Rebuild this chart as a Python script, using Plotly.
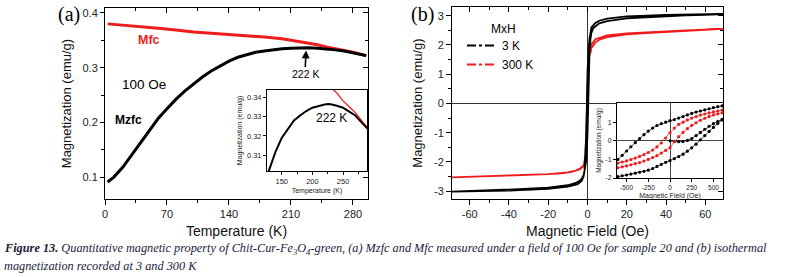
import plotly.graph_objects as go

# ---------------- DATA ----------------
# Panel (a): ZFC / FC magnetization vs temperature (100 Oe)
T_zfc = [3, 10, 20, 30, 40, 50, 60, 70, 80, 90, 100, 110, 120, 130, 140, 150, 160, 170,
         180, 190, 200, 210, 220, 226, 230, 240, 250, 260, 270, 280, 290, 295]
M_zfc = [0.091, 0.100, 0.118, 0.140, 0.163, 0.186, 0.207, 0.225, 0.242, 0.257, 0.270, 0.283,
         0.294, 0.303, 0.312, 0.319, 0.3235, 0.328, 0.3305, 0.3328, 0.3345, 0.3355, 0.3362,
         0.3364, 0.3363, 0.3355, 0.3345, 0.3325, 0.3305, 0.327, 0.3235, 0.322]
T_fc = [3, 20, 40, 60, 80, 100, 120, 140, 160, 180, 200, 220, 240, 250, 260, 270, 280, 290, 295]
M_fc = [0.380, 0.378, 0.375, 0.372, 0.369, 0.365, 0.363, 0.361, 0.358, 0.356, 0.353, 0.348,
        0.342, 0.338, 0.335, 0.332, 0.328, 0.324, 0.322]

a_xticks = [0, 70, 140, 210, 280]
a_yticks = [0.1, 0.2, 0.3, 0.4]
a_yticklabels = ["0.1", "0.2", "0.3", "0.4"]
ai_xticks = [150, 200, 250]
ai_yticks = [0.31, 0.32, 0.33, 0.34]

# Panel (b): M(H) loops, main (field in kOe shown as "Oe" in the original)
H3_up = [-69, -60, -50, -40, -30, -20, -15, -10, -6, -4, -3, -2, -1.5, -1, -0.6, 0, 0.6, 1,
         1.5, 2, 3, 5, 6, 10, 20, 30, 40, 50, 60, 69]
M3_up = [-3.02, -3.00, -2.98, -2.95, -2.92, -2.88, -2.85, -2.80, -2.72, -2.65, -2.58, -2.45,
         -2.30, -2.05, -1.93, -1.07, 1.12, 1.70, 2.20, 2.42, 2.58, 2.70, 2.74, 2.82, 2.91,
         2.95, 2.99, 3.01, 3.03, 3.04]
H3_dn = [69, 60, 40, 20, 10, 6, 4, 2, 1.5, 1, 0.6, 0, -0.6, -1, -1.5, -2, -3, -5, -10, -20,
         -40, -69]
M3_dn = [3.06, 3.05, 3.03, 2.98, 2.90, 2.83, 2.75, 2.60, 2.45, 2.20, 1.88, 1.08, -1.00, -1.90,
         -2.30, -2.50, -2.65, -2.76, -2.85, -2.92, -2.98, -3.02]
H300_up = [-69, -50, -30, -20, -10, -6, -4, -2, -1, -0.6, 0, 0.6, 1, 1.5, 2, 4, 6, 10, 15, 20,
           30, 40, 50, 60, 69]
M300_up = [-2.53, -2.49, -2.45, -2.42, -2.36, -2.30, -2.24, -2.12, -1.90, -1.45, -0.37, 1.50,
           1.68, 1.73, 1.90, 2.08, 2.18, 2.27, 2.32, 2.36, 2.41, 2.45, 2.49, 2.52, 2.55]
H300_dn = [69, 50, 30, 20, 10, 6, 4, 2, 1, 0.6, 0, -0.6, -1, -2, -4, -8, -12, -20, -30, -50, -69]
M300_dn = [2.55, 2.50, 2.44, 2.40, 2.33, 2.26, 2.20, 2.02, 1.80, 1.65, 0.43, -1.20, -1.75,
           -2.15, -2.26, -2.34, -2.38, -2.42, -2.45, -2.49, -2.53]

b_xticks = [-60, -40, -20, 0, 20, 40, 60]
b_xticklabels = ["-60", "-40", "-20", "0", "20", "40", "60"]
b_yticks = [-3, -2, -1, 0, 1, 2, 3]
b_yticklabels = ["-3", "-2", "-1", "0", "1", "2", "3"]

# Panel (b) inset: low-field loops (Oe)
Hi = [-600, -550, -500, -450, -400, -350, -300, -250, -200, -150, -100, -50, 0,
      50, 100, 150, 200, 250, 300, 350, 400, 450, 500, 550, 600]
Hi_rev = [600, 550, 500, 450, 400, 350, 300, 250, 200, 150, 100, 50, 0,
          -50, -100, -150, -200, -250, -300, -350, -400, -450, -500, -550, -600]
Mi3_dn = [1.88, 1.83, 1.78, 1.72, 1.66, 1.60, 1.54, 1.47, 1.39, 1.30, 1.22, 1.14, 1.08,
          1.00, 0.92, 0.82, 0.68, 0.52, 0.33, 0.12, -0.10, -0.32, -0.55, -0.78, -1.00]
Mi3_up = [-1.93, -1.88, -1.84, -1.79, -1.74, -1.69, -1.64, -1.58, -1.49, -1.38, -1.27, -1.16,
          -1.07, -0.96, -0.85, -0.72, -0.56, -0.38, -0.18, 0.05, 0.28, 0.50, 0.72, 0.93, 1.12]
Hi_virgin = [0, 50, 100, 150, 200, 250, 300, 350, 400, 450, 500, 550, 600]
Mi3_virgin = [0.0, -0.03, -0.05, -0.04, 0.02, 0.12, 0.28, 0.45, 0.62, 0.78, 0.92, 1.04, 1.15]
Mi300_dn = [1.65, 1.60, 1.55, 1.50, 1.44, 1.38, 1.30, 1.22, 1.12, 1.00, 0.88, 0.68, 0.43,
            0.15, -0.12, -0.33, -0.50, -0.63, -0.74, -0.84, -0.93, -1.01, -1.08, -1.14, -1.20]
Mi300_up = [-1.45, -1.40, -1.35, -1.29, -1.23, -1.17, -1.09, -1.00, -0.90, -0.80, -0.66, -0.52,
            -0.37, -0.05, 0.22, 0.45, 0.65, 0.83, 0.97, 1.10, 1.21, 1.31, 1.39, 1.45, 1.50]

bi_xticks = [-500, -250, 0, 250, 500]
bi_xticklabels = ["-500", "-250", "0", "250", "500"]
bi_yticks = [-2, -1, 0, 1]
bi_yticklabels = ["-2", "-1", "0", "1"]

W, H = 786, 277
FONT = "Arial, Liberation Sans, sans-serif"
SERIF = "Liberation Serif, Times New Roman, serif"
RED = "#ee1c1c"

def px_x(a, b):
    return [a / W, b / W]

def px_y(top, bottom):
    return [1 - bottom / H, 1 - top / H]

fig = go.Figure()

# ---- panel (a) main ----
fig.add_trace(go.Scatter(x=T_fc, y=M_fc, mode="lines", line=dict(color=RED, width=3),
                         xaxis="x", yaxis="y", showlegend=False))
fig.add_trace(go.Scatter(x=T_zfc, y=M_zfc, mode="lines", line=dict(color="black", width=3),
                         xaxis="x", yaxis="y", showlegend=False))
fig.add_trace(go.Scatter(x=[None], y=[None], xaxis="x5", yaxis="y5", showlegend=False))
# ---- panel (a) inset ----
fig.add_trace(go.Scatter(x=T_fc, y=M_fc, mode="lines", line=dict(color=RED, width=1.3),
                         xaxis="x2", yaxis="y2", showlegend=False))
fig.add_trace(go.Scatter(x=T_zfc, y=M_zfc, mode="lines", line=dict(color="black", width=2),
                         xaxis="x2", yaxis="y2", showlegend=False))
# ---- panel (b) main ----
fig.add_trace(go.Scatter(x=H300_up + H300_dn, y=M300_up + M300_dn, mode="lines",
                         line=dict(color=RED, width=1.8), xaxis="x3", yaxis="y3", showlegend=False))
fig.add_trace(go.Scatter(x=H3_up + H3_dn, y=M3_up + M3_dn, mode="lines",
                         line=dict(color="black", width=1.8), xaxis="x3", yaxis="y3", showlegend=False))
fig.add_trace(go.Scatter(x=[None], y=[None], xaxis="x6", yaxis="y6", showlegend=False))
# legend samples
fig.add_trace(go.Scatter(x=[None], y=[None], mode="lines", name="3 K",
                         line=dict(color="black", width=2, dash="dashdot"), xaxis="x3", yaxis="y3"))
fig.add_trace(go.Scatter(x=[None], y=[None], mode="lines", name="300 K",
                         line=dict(color=RED, width=2, dash="dashdot"), xaxis="x3", yaxis="y3"))
# ---- panel (b) inset ----
mk = dict(size=3.2)
fig.add_trace(go.Scatter(x=Hi_rev, y=Mi3_dn, mode="lines+markers", line=dict(color="black", width=0.7),
                         marker=dict(color="black", **mk), xaxis="x4", yaxis="y4", showlegend=False))
fig.add_trace(go.Scatter(x=Hi, y=Mi3_up, mode="lines+markers", line=dict(color="black", width=0.7),
                         marker=dict(color="black", **mk), xaxis="x4", yaxis="y4", showlegend=False))
fig.add_trace(go.Scatter(x=Hi_virgin, y=Mi3_virgin, mode="lines+markers", line=dict(color="black", width=0.7),
                         marker=dict(color="black", **mk), xaxis="x4", yaxis="y4", showlegend=False))
fig.add_trace(go.Scatter(x=Hi_rev, y=Mi300_dn, mode="lines+markers", line=dict(color=RED, width=0.7),
                         marker=dict(color=RED, **mk), xaxis="x4", yaxis="y4", showlegend=False))
fig.add_trace(go.Scatter(x=Hi, y=Mi300_up, mode="lines+markers", line=dict(color=RED, width=0.7),
                         marker=dict(color=RED, **mk), xaxis="x4", yaxis="y4", showlegend=False))

base = dict(showgrid=False, zeroline=False, showline=True, linecolor="black", linewidth=1,
            tickcolor="black", tickfont=dict(family=FONT, size=11, color="#222"))

# (a) main
fig.update_layout(
    xaxis=dict(**base, domain=px_x(105, 368), anchor="y", range=[0, 297],
               tickvals=a_xticks, ticks="outside", ticklen=5,
               minor=dict(ticks="outside", ticklen=3, dtick=35, tickcolor="black"),
               title=dict(text="Temperature (K)", font=dict(family=FONT, size=14, color="#111"), standoff=6)),
    yaxis=dict(**base, domain=px_y(8, 199), anchor="x", range=[0.06, 0.409],
               tickvals=a_yticks, ticktext=a_yticklabels, ticks="outside", ticklen=4,
               minor=dict(ticks="outside", ticklen=3, dtick=0.05, tick0=0, tickcolor="black"),
               title=dict(text="Magnetization (emu/g)", font=dict(family=FONT, size=13, color="#111"), standoff=7)),
    xaxis5=dict(showgrid=False, zeroline=False, showline=True, linecolor="black", linewidth=1,
                overlaying="x", side="top", anchor="y5", range=[0, 297], tickvals=a_xticks,
                ticks="inside", ticklen=5, showticklabels=False, tickcolor="black",
                minor=dict(ticks="inside", ticklen=3, dtick=35, tickcolor="black")),
    yaxis5=dict(showgrid=False, zeroline=False, showline=True, linecolor="black", linewidth=1,
                overlaying="y", side="right", anchor="x5", range=[0.06, 0.409], tickvals=a_yticks,
                ticks="inside", ticklen=5, showticklabels=False, tickcolor="black",
                minor=dict(ticks="inside", ticklen=3, dtick=0.05, tick0=0, tickcolor="black")),
)

small = dict(family=FONT, size=7, color="#222")
# (a) inset
fig.update_layout(
    xaxis2=dict(showgrid=False, zeroline=False, showline=True, mirror=True, linecolor="black",
                linewidth=1, domain=px_x(267, 367), anchor="y2", range=[126, 289],
                tickvals=ai_xticks, ticks="outside", ticklen=3, tickcolor="black",
                tickfont=dict(family=FONT, size=7.5, color="#222"),
                minor=dict(ticks="outside", ticklen=2, dtick=25, tickcolor="black"),
                title=dict(text="Temperature (K)", font=small, standoff=3)),
    yaxis2=dict(showgrid=False, zeroline=False, showline=True, mirror=True, linecolor="black",
                linewidth=1, domain=px_y(90, 171), anchor="x2", range=[0.302, 0.3436],
                tickvals=ai_yticks, ticks="outside", ticklen=3, tickcolor="black",
                tickfont=dict(family=FONT, size=7.5, color="#222"),
                title=dict(text="Magnetization (emu/g)", font=small, standoff=3)),
)

# (b) main
fig.update_layout(
    xaxis3=dict(**base, domain=px_x(452, 723), anchor="y3", range=[-69, 69],
                tickvals=b_xticks, ticktext=b_xticklabels, ticks="outside", ticklen=5,
                minor=dict(ticks="outside", ticklen=3, dtick=10, tick0=0, tickcolor="black"),
                title=dict(text="Magnetic Field (Oe)", font=dict(family=FONT, size=14, color="#111"), standoff=6)),
    yaxis3=dict(**base, domain=px_y(7, 199), anchor="x3", range=[-3.27, 3.30],
                tickvals=b_yticks, ticktext=b_yticklabels, ticks="outside", ticklen=5,
                minor=dict(ticks="outside", ticklen=3, dtick=0.5, tick0=0, tickcolor="black"),
                title=dict(text="Magnetization (emu/g)", font=dict(family=FONT, size=13, color="#111"), standoff=8)),
    xaxis6=dict(showgrid=False, showline=True, linecolor="black", linewidth=1,
                overlaying="x3", side="top", anchor="y6", range=[-69, 69], tickvals=b_xticks,
                ticks="inside", ticklen=5, showticklabels=False, tickcolor="black",
                zeroline=True, zerolinecolor="#333", zerolinewidth=1,
                minor=dict(ticks="inside", ticklen=3, dtick=10, tick0=0, tickcolor="black")),
    yaxis6=dict(showgrid=False, showline=True, linecolor="black", linewidth=1,
                overlaying="y3", side="right", anchor="x6", range=[-3.27, 3.30], tickvals=b_yticks,
                ticks="inside", ticklen=5, showticklabels=False, tickcolor="black",
                zeroline=True, zerolinecolor="#333", zerolinewidth=1,
                minor=dict(ticks="inside", ticklen=3, dtick=0.5, tick0=0, tickcolor="black")),
)

# (b) inset
fig.update_layout(
    xaxis4=dict(showgrid=False, zeroline=True, zerolinecolor="#444", zerolinewidth=1,
                showline=True, mirror=True, linecolor="black", linewidth=1,
                domain=px_x(617, 723), anchor="y4", range=[-610, 610],
                tickvals=bi_xticks, ticktext=bi_xticklabels, ticks="outside", ticklen=3,
                tickcolor="black", tickfont=dict(family=FONT, size=6.5, color="#222"),
                title=dict(text="Magnetic Field (Oe)", font=small, standoff=3)),
    yaxis4=dict(showgrid=False, zeroline=True, zerolinecolor="#444", zerolinewidth=1,
                showline=True, mirror=True, linecolor="black", linewidth=1,
                domain=px_y(103, 178), anchor="x4", range=[-2.0, 2.03],
                tickvals=bi_yticks, ticktext=bi_yticklabels, ticks="outside", ticklen=3,
                tickcolor="black", tickfont=dict(family=FONT, size=7, color="#222"),
                title=dict(text="Magnetization (emu/g)", font=dict(family=FONT, size=6.5, color="#222"), standoff=3)),
)


def label(text, cx, cy, size, color="black", family=FONT):
    return dict(text=text, x=cx / W, y=1 - cy / H, xref="paper", yref="paper",
                xanchor="center", yanchor="middle", showarrow=False,
                font=dict(family=family, size=size, color=color))


annotations = [
    label("(a)", 69, 15, 20, family=SERIF),
    label("(b)", 423, 15, 20, family=SERIF),
    label("<b>Mfc</b>", 149, 40, 12.5, color=RED),
    label("100 Oe", 144, 84, 13.5),
    label("<b>Mzfc</b>", 128, 120, 12),
    dict(text="222 K", x=227, y=0.3315, xref="x", yref="y", showarrow=True, arrowhead=2,
         arrowsize=1, arrowwidth=1.6, arrowcolor="black", ax=-1, ay=24, standoff=0,
         xanchor="center", yanchor="middle",
         font=dict(family=FONT, size=10.5, color="black")),
    label("222 K", 331, 118, 12),
    label("MxH", 503, 29, 12),
    dict(text="<b><i>Figure 13.</i></b><i> Quantitative magnetic property of Chit-Cur-Fe<sub>3</sub>O<sub>4</sub>-green, "
              "(a) Mzfc and Mfc measured under a field of 100 Oe for sample 20 and (b) isothermal</i>",
         x=2 / W, y=1 - 249 / H, xref="paper", yref="paper", xanchor="left", yanchor="middle",
         showarrow=False, font=dict(family=SERIF, size=12.3, color="#1b1b3a")),
    dict(text="<i>magnetization recorded at 3 and 300 K</i>",
         x=2 / W, y=1 - 266 / H, xref="paper", yref="paper", xanchor="left", yanchor="middle",
         showarrow=False, font=dict(family=SERIF, size=12.3, color="#1b1b3a")),
]

fig.update_layout(
    width=W, height=H, margin=dict(l=0, r=0, t=0, b=0, autoexpand=False),
    paper_bgcolor="white", plot_bgcolor="white",
    annotations=annotations,
    legend=dict(x=462 / W, y=1 - 31 / H, xanchor="left", yanchor="top", bgcolor="rgba(0,0,0,0)",
                font=dict(family=FONT, size=12, color="black"), itemwidth=30,
                tracegroupgap=0, borderwidth=0),
    showlegend=True,
)

fig.write_html("out.html", config={"displayModeBar": False},
               post_script="document.body.style.margin='0px';document.body.style.overflow='hidden';")
